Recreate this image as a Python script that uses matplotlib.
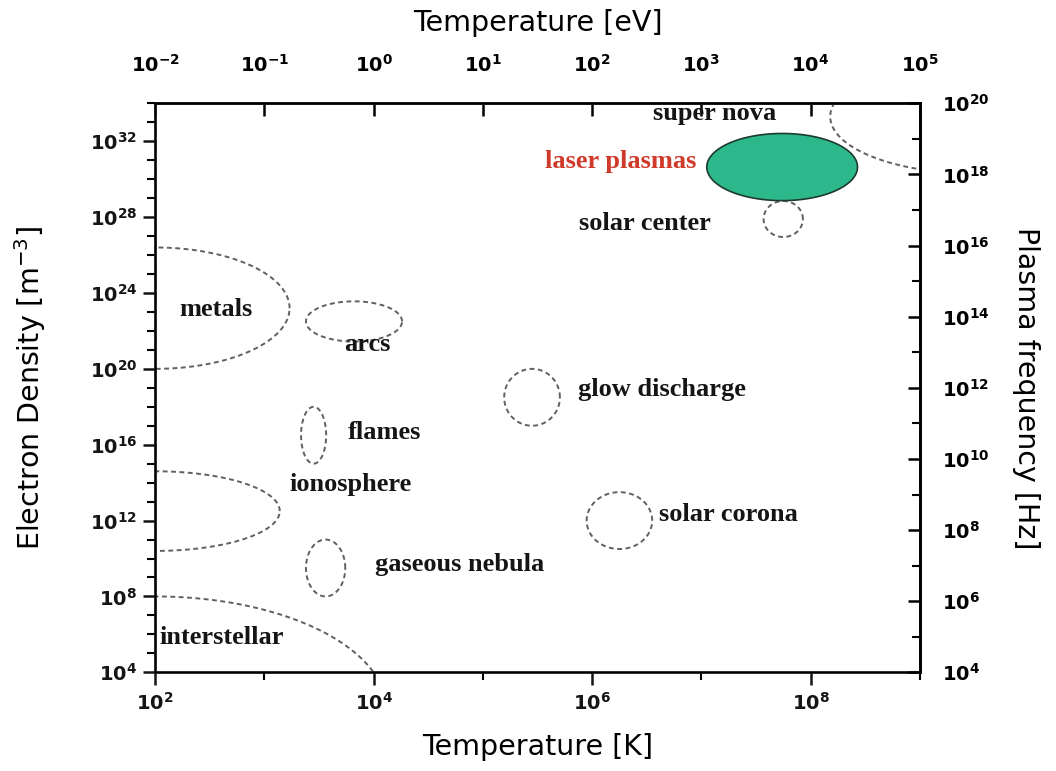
import numpy as np
import matplotlib.pyplot as plt
from matplotlib.ticker import FixedLocator, FuncFormatter, NullFormatter

# closed regions, dashed ellipses in log10 space
names = ['arcs', 'flames', 'gaseous nebula', 'glow discharge', 'solar corona', 'solar center']
cx = [3.82, 3.45, 3.56, 5.45, 6.25, 7.75]      # log10 T [K]
cy = [22.5, 16.5, 9.5, 18.5, 12.0, 27.9]       # log10 n [m^-3]
hw = [0.44, 0.115, 0.18, 0.255, 0.30, 0.18]
hh = [1.06, 1.5, 1.5, 1.5, 1.5, 0.95]

# regions cut by the axes edges
edge_names = ['metals', 'ionosphere', 'interstellar', 'super nova']
edge_cx = [2.0, 2.0, 2.0, 9.5]
edge_cy = [23.2, 12.5, 2.0, 33.3]
edge_hw = [1.23, 1.14, 2.12, 1.32]
edge_hh = [3.2, 2.1, 6.0, 3.0]

# laser plasmas, filled
laser_c = (7.74, 30.64)
laser_h = (0.69, 1.77)

# text labels (log T, log n)
lab_text = ['metals', 'arcs', 'flames', 'ionosphere', 'gaseous nebula', 'interstellar',
            'glow discharge', 'solar corona', 'solar center', 'laser plasmas', 'super nova']
lab_x = [2.56, 3.94, 4.10, 3.79, 4.79, 2.61, 6.64, 7.25, 6.48, 6.26, 7.12]
lab_y = [23.15, 21.3, 16.65, 13.9, 9.66, 5.85, 18.9, 12.3, 27.65, 30.93, 33.45]

def ellipse(c0, c1, a, b, n=300):
    t = np.linspace(0, 2 * np.pi, n)
    return 10 ** (c0 + a * np.cos(t)), 10 ** (c1 + b * np.sin(t))

def pow10(v, pos):
    e = int(round(np.log10(v)))
    return r'$\mathbf{10^{%d}}$' % e

fig = plt.figure(figsize=(10.56, 7.71), dpi=100)
ax = fig.add_axes([0.147, 0.128, 0.724, 0.738])
ax.set_xscale('log')
ax.set_yscale('log')
ax.set_xlim(1e2, 1e9)
ax.set_ylim(1e4, 1e34)

dash = dict(color='#606060', lw=1.4, ls=(0, (2.5, 1.8)))
for i in range(len(names)):
    x, y = ellipse(cx[i], cy[i], hw[i], hh[i])
    ax.plot(x, y, **dash)
for i in range(len(edge_names)):
    x, y = ellipse(edge_cx[i], edge_cy[i], edge_hw[i], edge_hh[i], 600)
    ax.plot(x, y, **dash)

x, y = ellipse(laser_c[0], laser_c[1], laser_h[0], laser_h[1])
ax.fill(x, y, facecolor='#2db88b', edgecolor='#1c3b2c', lw=1.2, zorder=5)

for t, lx, ly in zip(lab_text, lab_x, lab_y):
    col = '#d03a2a' if t == 'laser plasmas' else '#151515'
    ax.text(10 ** lx, 10 ** ly, t, ha='center', va='center', fontsize=19,
            family='Liberation Serif', weight='bold', color=col, zorder=6)

# bottom / left ticks
ax.xaxis.set_major_locator(FixedLocator([1e2, 1e4, 1e6, 1e8]))
ax.xaxis.set_minor_locator(FixedLocator([1e3, 1e5, 1e7, 1e9]))
ax.xaxis.set_major_formatter(FuncFormatter(pow10))
ax.xaxis.set_minor_formatter(NullFormatter())
ax.yaxis.set_major_locator(FixedLocator([10.0 ** k for k in range(4, 33, 4)]))
ax.yaxis.set_minor_locator(FixedLocator([10.0 ** k for k in range(4, 35)]))
ax.yaxis.set_major_formatter(FuncFormatter(pow10))
ax.yaxis.set_minor_formatter(NullFormatter())
ax.tick_params(which='major', direction='out', length=9, width=1.8, labelsize=14,
               colors='#151515')
ax.tick_params(which='minor', direction='out', length=6, width=1.5)
ax.tick_params(axis='x', pad=5)
ax.tick_params(axis='y', pad=4)

for s in ax.spines.values():
    s.set_linewidth(2.0)
    s.set_color('#1a1a1a')

# top axis in eV
top = ax.secondary_xaxis('top', functions=(lambda k: k / 1e4, lambda e: e * 1e4))
top.xaxis.set_major_locator(FixedLocator([10.0 ** k for k in range(-2, 6)]))
top.xaxis.set_minor_formatter(NullFormatter())
top.xaxis.set_minor_locator(FixedLocator([]))
top.xaxis.set_major_formatter(FuncFormatter(pow10))
top.tick_params(direction='in', length=9, width=1.8, labelsize=14, pad=20)
top.spines['top'].set_linewidth(2.0)
top.set_xlabel('Temperature [eV]', fontsize=20.5, labelpad=16)

# right axis, plasma frequency
rax = ax.twinx()
rax.set_yscale('log')
rax.set_ylim(1e4, 1e20)
rax.yaxis.set_major_locator(FixedLocator([10.0 ** k for k in range(4, 21, 2)]))
rax.yaxis.set_minor_locator(FixedLocator([10.0 ** k for k in range(5, 20, 2)]))
rax.yaxis.set_major_formatter(FuncFormatter(pow10))
rax.yaxis.set_minor_formatter(NullFormatter())
rax.tick_params(which='major', direction='in', length=9, width=1.8, labelsize=14, pad=16)
rax.tick_params(which='minor', direction='in', length=6, width=1.5)
rax.spines['right'].set_linewidth(2.0)
rax.set_ylabel('Plasma frequency [Hz]', fontsize=20.5, rotation=-90, labelpad=36)

ax.set_xlabel('Temperature [K]', fontsize=20.5, labelpad=14)
ax.set_ylabel(r'Electron Density [m$^{-3}$]', fontsize=20.5, labelpad=30)

fig.savefig('out.png', dpi=100, facecolor='white')
